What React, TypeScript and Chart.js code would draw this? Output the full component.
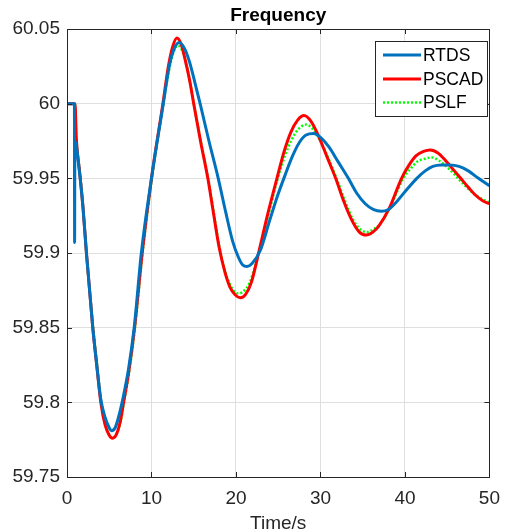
import React, { useEffect, useRef } from 'react';
import { Chart, registerables } from 'chart.js';

Chart.register(...registerables);

const titleText = 'Frequency';
const xAxisTitle = 'Time/s';
const xTickValues = [0, 10, 20, 30, 40, 50];
const yTickValues = [59.75, 59.8, 59.85, 59.9, 59.95, 60, 60.05];
const yTickLabels = ['59.75', '59.8', '59.85', '59.9', '59.95', '60', '60.05'];
const seriesNames = ['RTDS', 'PSCAD', 'PSLF'];

const rtdsT = [0, 0.88, 0.9, 0.93, 1.5, 1.9, 2.3, 3.05, 3.5, 4.0, 4.5, 5.0, 5.3, 5.7, 6.1, 6.6, 7.3, 7.95, 8.8, 10.0, 11.4, 12.1, 12.7, 13.3, 13.9, 14.5, 15.1, 15.8, 16.8, 17.9, 18.8, 19.6, 20.3, 20.8, 21.3, 21.9, 22.9, 24.0, 24.9, 25.8, 26.7, 27.5, 28.3, 29.2, 30.1, 31.0, 32.1, 33.3, 34.3, 35.3, 36.3, 37.2, 38.0, 38.8, 40.0, 41.4, 42.4, 43.3, 44.3, 45.3, 46.4, 47.5, 48.7, 50];
const rtdsV = [60.0, 60.0, 59.907, 59.975, 59.953, 59.93, 59.9, 59.85, 59.826, 59.802, 59.79, 59.783, 59.781, 59.783, 59.79, 59.802, 59.823, 59.85, 59.9, 59.95, 60.0, 60.025, 60.037, 60.041, 60.037, 60.028, 60.015, 59.999, 59.975, 59.95, 59.927, 59.908, 59.897, 59.892, 59.891, 59.893, 59.902, 59.922, 59.938, 59.952, 59.965, 59.974, 59.979, 59.98, 59.977, 59.971, 59.961, 59.95, 59.94, 59.933, 59.929, 59.928, 59.929, 59.933, 59.941, 59.95, 59.955, 59.958, 59.959, 59.959, 59.958, 59.955, 59.95, 59.945];

const pscadT = [0, 0.95, 1.1, 1.5, 1.9, 2.3, 3.05, 3.5, 4.0, 4.5, 5.0, 5.4, 5.8, 6.3, 6.7, 7.3, 8.0, 8.9, 10.0, 11.35, 12.0, 12.5, 13.0, 13.5, 14.0, 14.5, 15.0, 15.8, 16.67, 17.3, 18.0, 18.7, 19.3, 19.9, 20.5, 21.1, 21.8, 22.8, 23.8, 24.85, 25.7, 26.5, 27.3, 28.05, 28.9, 29.8, 30.8, 31.8, 32.8, 33.8, 34.6, 35.4, 36.2, 36.9, 38.15, 39.6, 40.5, 41.3, 42.2, 43.0, 43.9, 44.8, 45.7, 46.6, 47.5, 48.3, 49.2, 50];
const pscadV = [60.0, 60.0, 59.977, 59.954, 59.93, 59.9, 59.85, 59.826, 59.8, 59.785, 59.778, 59.776, 59.778, 59.787, 59.8, 59.82, 59.85, 59.9, 59.95, 60.0, 60.025, 60.038, 60.044, 60.04, 60.029, 60.016, 60.0, 59.975, 59.95, 59.928, 59.904, 59.887, 59.877, 59.872, 59.87, 59.872, 59.88, 59.903, 59.927, 59.95, 59.968, 59.981, 59.989, 59.992, 59.988, 59.978, 59.964, 59.95, 59.934, 59.921, 59.914, 59.912, 59.914, 59.918, 59.93, 59.95, 59.959, 59.965, 59.968, 59.969, 59.967, 59.962, 59.956, 59.95, 59.944, 59.939, 59.935, 59.933];

const pslfT = [0, 0.95, 1.1, 1.5, 1.9, 2.3, 3.1, 3.55, 4.05, 4.55, 5.0, 5.4, 5.8, 6.35, 6.75, 7.35, 8.05, 8.95, 10.05, 11.4, 12.1, 12.6, 13.1, 13.6, 14.1, 14.55, 15.0, 15.8, 16.7, 17.35, 18.05, 18.7, 19.3, 19.85, 20.4, 21.0, 21.6, 22.8, 23.9, 24.95, 25.8, 26.6, 27.4, 28.3, 29.1, 29.9, 30.9, 31.9, 32.9, 33.8, 34.7, 35.5, 36.3, 37.0, 38.2, 39.8, 40.6, 41.4, 42.3, 43.2, 44.0, 44.9, 45.8, 46.6, 47.5, 48.3, 49.2, 50];
const pslfV = [60.0, 60.0, 59.978, 59.955, 59.931, 59.9, 59.85, 59.826, 59.8, 59.785, 59.778, 59.776, 59.778, 59.787, 59.8, 59.82, 59.85, 59.9, 59.95, 60.0, 60.023, 60.034, 60.039, 60.036, 60.027, 60.015, 60.0, 59.976, 59.95, 59.928, 59.904, 59.888, 59.879, 59.874, 59.873, 59.875, 59.88, 59.902, 59.927, 59.95, 59.965, 59.976, 59.983, 59.986, 59.983, 59.976, 59.964, 59.95, 59.935, 59.923, 59.916, 59.914, 59.916, 59.919, 59.93, 59.95, 59.956, 59.961, 59.963, 59.964, 59.962, 59.958, 59.953, 59.948, 59.943, 59.939, 59.936, 59.934];

const colors = ['#0072BD', '#FF0000', '#00FF00'];
const FONT = '"Liberation Sans", Arial, Helvetica, sans-serif';
const TEXT = '#262626';

const toPoints = (t: number[], v: number[]) => t.map((x, i) => ({ x, y: v[i] }));

const decorPlugin = {
  id: 'decor',
  afterDatasetsDraw(chart: any) {
    const { ctx, chartArea: a, scales } = chart;
    const xs = scales.x, ys = scales.y;
    ctx.save();
    ctx.strokeStyle = TEXT;
    ctx.lineWidth = 1;
    ctx.strokeRect(Math.round(a.left) + 0.5, Math.round(a.top) + 0.5, Math.round(a.right - a.left), Math.round(a.bottom - a.top));
    const tl = 5;
    ctx.beginPath();
    xTickValues.forEach((v) => {
      const px = Math.round(xs.getPixelForValue(v)) + 0.5;
      ctx.moveTo(px, a.bottom); ctx.lineTo(px, a.bottom - tl);
      ctx.moveTo(px, a.top); ctx.lineTo(px, a.top + tl);
    });
    yTickValues.forEach((v) => {
      const py = Math.round(ys.getPixelForValue(v)) + 0.5;
      ctx.moveTo(a.left, py); ctx.lineTo(a.left + tl, py);
      ctx.moveTo(a.right, py); ctx.lineTo(a.right - tl, py);
    });
    ctx.stroke();
    const cx = (a.left + a.right) / 2;
    ctx.fillStyle = '#000000';
    ctx.font = `bold 19px ${FONT}`;
    ctx.textAlign = 'center';
    ctx.textBaseline = 'alphabetic';
    ctx.fillText(titleText, cx, 20.5);
    ctx.fillStyle = TEXT;
    ctx.font = `19px ${FONT}`;
    ctx.fillText(xAxisTitle, cx, 528.5);
    const lx = 375, ly = 41, lw = 112, lh = 75;
    ctx.fillStyle = '#ffffff';
    ctx.fillRect(lx, ly, lw, lh);
    ctx.strokeStyle = TEXT;
    ctx.lineWidth = 1;
    ctx.strokeRect(lx + 0.5, ly + 0.5, lw, lh);
    const rows = [55, 79, 102.5];
    chart.data.datasets.forEach((ds: any, i: number) => {
      const y = rows[i];
      ctx.beginPath();
      ctx.strokeStyle = ds.borderColor;
      ctx.lineWidth = ds.borderWidth;
      ctx.setLineDash(ds.borderDash || []);
      ctx.moveTo(383, y); ctx.lineTo(421, y);
      ctx.stroke();
      ctx.setLineDash([]);
      ctx.fillStyle = '#000000';
      ctx.font = `17.5px ${FONT}`;
      ctx.textAlign = 'left';
      ctx.textBaseline = 'middle';
      ctx.fillText(seriesNames[i], 423, y + 1);
    });
    ctx.restore();
  },
};

export default function App() {
  const ref = useRef<HTMLCanvasElement | null>(null);
  useEffect(() => {
    if (!ref.current) return;
    const chart = new Chart(ref.current, {
      type: 'line',
      data: {
        datasets: [
          { label: seriesNames[0], data: toPoints(rtdsT, rtdsV), borderColor: colors[0], borderWidth: 3, pointRadius: 0, cubicInterpolationMode: 'monotone', fill: false },
          { label: seriesNames[1], data: toPoints(pscadT, pscadV), borderColor: colors[1], borderWidth: 3, pointRadius: 0, cubicInterpolationMode: 'monotone', fill: false },
          { label: seriesNames[2], data: toPoints(pslfT, pslfV), borderColor: colors[2], borderWidth: 2.5, borderDash: [2, 2], pointRadius: 0, cubicInterpolationMode: 'monotone', fill: false },
        ],
      },
      options: {
        animation: false,
        responsive: false,
        devicePixelRatio: 1,
        layout: { padding: { left: 0, right: 11, top: 29, bottom: 0 } },
        plugins: { legend: { display: false }, title: { display: false }, tooltip: { enabled: false } },
        scales: {
          x: {
            type: 'linear', min: 0, max: 50,
            afterBuildTicks: (s: any) => { s.ticks = xTickValues.map((v) => ({ value: v })); },
            afterFit: (s: any) => { s.height = 55; },
            grid: { color: '#dfdfdf', drawTicks: false, lineWidth: 1 },
            border: { display: false },
            ticks: { color: TEXT, font: { family: FONT, size: 19 }, padding: 10, maxRotation: 0, autoSkip: false },
          },
          y: {
            type: 'linear', min: 59.75, max: 60.05,
            afterBuildTicks: (s: any) => { s.ticks = yTickValues.map((v) => ({ value: v })); },
            afterFit: (s: any) => { s.width = 67; },
            grid: { color: '#dfdfdf', drawTicks: false, lineWidth: 1 },
            border: { display: false },
            ticks: {
              color: TEXT, font: { family: FONT, size: 19 }, padding: 7, autoSkip: false,
              callback: (v: any) => { const i = yTickValues.findIndex((t) => Math.abs(t - v) < 1e-6); return i >= 0 ? yTickLabels[i] : ''; },
            },
          },
        },
      },
      plugins: [decorPlugin],
    } as any);
    return () => chart.destroy();
  }, []);
  return (
    <div style={{ position: 'absolute', left: 0, top: 0, width: 510, height: 532, background: '#ffffff' }}>
      <canvas ref={ref} width={510} height={532} style={{ display: 'block' }} />
    </div>
  );
}
